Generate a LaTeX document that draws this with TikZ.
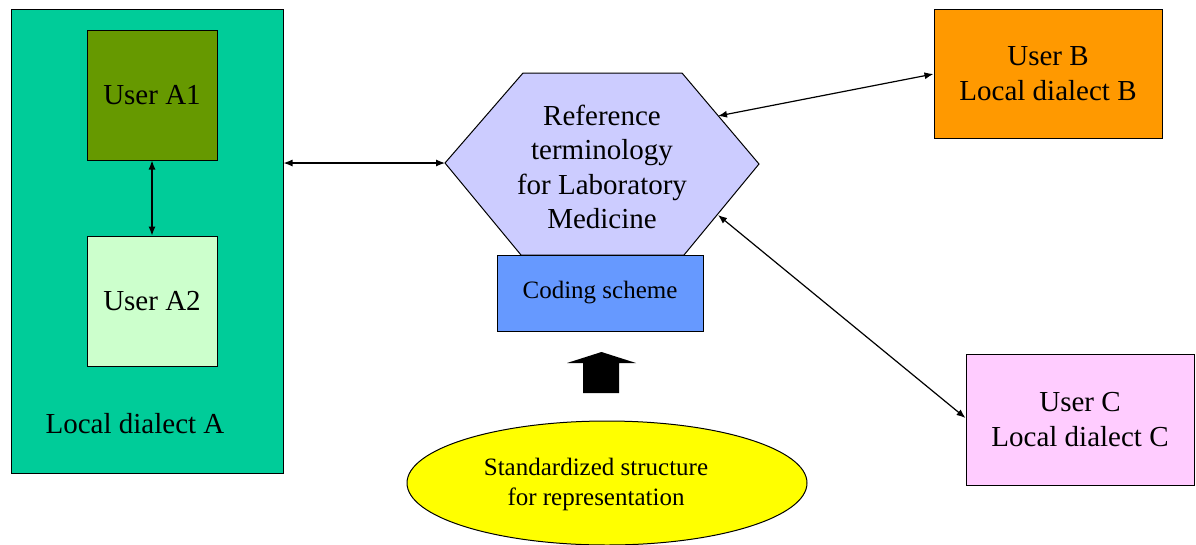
\documentclass[tikz,border=0pt]{standalone}
\usepackage{fontspec}
\setmainfont{Liberation Serif}
\usetikzlibrary{shapes.geometric,arrows.meta}
\definecolor{cGreen}{RGB}{0,204,153}
\definecolor{cOlive}{RGB}{102,153,0}
\definecolor{cMint}{RGB}{204,255,204}
\definecolor{cLav}{RGB}{204,204,255}
\definecolor{cBlue}{RGB}{102,153,255}
\definecolor{cOrange}{RGB}{255,153,0}
\definecolor{cPink}{RGB}{255,204,255}
\definecolor{cYellow}{RGB}{255,255,0}
\tikzset{
  box/.style={draw=black, line width=1pt, inner sep=0pt, align=center},
  bigtxt/.style={font=\fontsize{29}{34.5}\selectfont},
  smalltxt/.style={font=\fontsize{25}{30}\selectfont},
  link/.style={line width=1.2pt, {Latex[length=9pt,width=7pt]}-{Latex[length=9pt,width=7pt]}}
}
\begin{document}
\begin{tikzpicture}[x=1pt,y=-1pt]
\useasboundingbox (0,0) rectangle (1196,544);
\clip (0,0) rectangle (1196,544);
% left group
\node[box, fill=cGreen, minimum width=272pt, minimum height=464pt] (gA) at (147,241) {};
\node[box, fill=cOlive, bigtxt, minimum width=130pt, minimum height=130pt] (a1) at (152,95) {User A1};
\node[box, fill=cMint, bigtxt, minimum width=130pt, minimum height=130pt] (a2) at (152,301) {User A2};
\node[bigtxt] (la) at (135,424) {Local dialect A};
\draw[link] (a1.south) -- (a2.north);
% hexagon
\coordinate (hL) at (445,163);
\coordinate (hTL) at (523,73);
\coordinate (hTR) at (682,73);
\coordinate (hR) at (759,164);
\coordinate (hBR) at (684,255);
\coordinate (hBL) at (521,255);
\filldraw[fill=cLav, draw=black, line width=1pt] (hL) -- (hTL) -- (hTR) -- (hR) -- (hBR) -- (hBL) -- cycle;
\node[bigtxt, align=center] (ref) at (602,167) {Reference\\terminology\\for Laboratory\\Medicine};
\coordinate (hB) at (718,116);
\coordinate (hC) at (718,215);
% coding scheme
\node[box, fill=cBlue, smalltxt, minimum width=206pt, minimum height=76pt] (cs) at (600,293) {Coding scheme};
% block arrow
\fill[black] (583,393) -- (583,363) -- (567,363) -- (601.5,352) -- (636,363) -- (619,363) -- (619,393) -- cycle;
% ellipse
\node[draw=black, line width=1pt, fill=cYellow, ellipse, minimum width=400pt, minimum height=124pt, inner sep=0pt] (ell) at (607,483) {};
\node[smalltxt, align=center] (elltxt) at (596,484) {Standardized structure\\for representation};
% user B and C
\node[box, fill=cOrange, bigtxt, minimum width=228pt, minimum height=129pt] (ub) at (1048,73.5) {User B\\Local dialect B};
\node[box, fill=cPink, bigtxt, minimum width=228pt, minimum height=131pt] (uc) at (1080,419.5) {User C\\Local dialect C};
% connectors
\draw[link] (gA.east |- hL) -- (hL);
\draw[link] (hB) -- (ub.west |- 0,74);
\draw[link] (hC) -- (uc.west |- 0,418);
\end{tikzpicture}
\end{document}
